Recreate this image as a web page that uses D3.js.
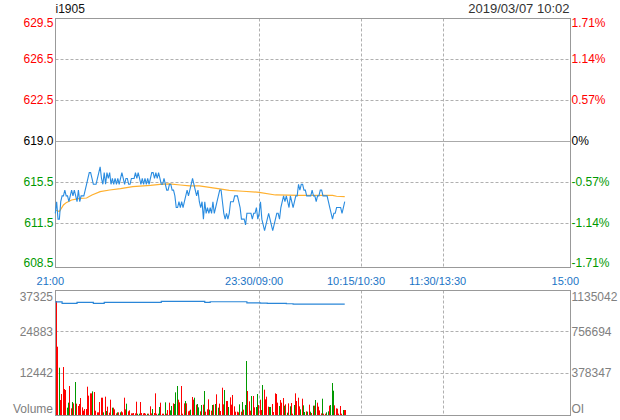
<!DOCTYPE html>
<html><head><meta charset="utf-8">
<script src="https://cdn.jsdelivr.net/npm/d3@7"></script>
<style>
body{margin:0;background:#fff}
svg{display:block}
text{font-family:"Liberation Sans",Arial,sans-serif}
</style>
</head><body>
<svg id="chart" width="620" height="420"></svg>
<script>
// ---------------- data ----------------
const symbol = "i1905";
const stamp = "2019/03/07 10:02";
const preClose = 619.2;
const timeLabels = ["21:00", "23:30/09:00", "10:15/10:30", "11:30/13:30", "15:00"];
const timeSlots = [0, 150, 225, 285, 379];
const pctTicks = [1.71, 1.14, 0.57, 0, -0.57, -1.14, -1.71];
const priceLabels = ["629.5", "626.5", "622.5", "619.0", "615.5", "611.5", "608.5"];
const pctLabels = ["1.71%", "1.14%", "0.57%", "0%", "-0.57%", "-1.14%", "-1.71%"];
const volTicks = [37325, 24883, 12442, 0];
const volLabels = ["37325", "24883", "12442", "Volume"];
const oiMax = 1135042;
const oiLabels = ["1135042", "756694", "378347", "OI"];

// one price per minute, 21:00 .. 10:02
const price = [
613.0,614.0,612.5,612.5,614.0,
614.5,614.5,615.0,614.5,614.5,614.0,614.5,615.0,614.5,615.0,614.5,614.0,615.0,614.0,614.5,614.5,
614.5,
615.0,615.5,616.0,616.5,616.5,616.0,615.5,615.5,615.5,616.0,616.5,617.0,616.0,615.5,616.5,615.5,616.5,616.0,616.5,615.5,
616.0,615.5,616.0,615.5,616.0,615.5,616.0,616.5,616.0,615.5,616.0,616.0,615.5,615.5,616.0,616.0,616.0,616.5,616.0,616.5,
616.0,615.5,616.0,615.5,616.0,615.5,616.0,615.5,616.0,616.5,616.5,
616.0,616.5,616.0,616.5,616.0,615.5,615.5,616.0,615.5,615.0,615.0,615.5,615.5,615.0,
615.0,614.5,613.5,613.5,614.0,613.5,614.0,613.5,614.0,614.5,615.0,614.5,615.0,615.5,616.0,615.5,615.0,614.5,615.0,614.0,
613.5,614.0,612.5,614.0,613.0,613.5,613.0,613.5,613.0,614.0,613.0,613.5,614.0,614.5,615.0,615.0,614.0,613.0,612.5,613.0,
612.5,613.0,614.0,614.0,614.0,614.5,614.5,614.5,614.0,613.5,612.5,612.5,612.5,612.0,
613.0,613.0,613.0,613.0,612.5,613.0,613.0,613.5,612.5,613.0,614.0,612.5,612.0,611.5,612.0,612.5,613.0,612.5,612.0,611.5,
612.0,612.5,613.0,613.0,
612.5,613.5,614.0,614.5,614.0,614.5,614.0,613.5,614.5,614.0,613.5,614.0,614.5,614.5,615.5,615.0,615.5,615.5,615.0,615.0,
614.5,614.5,614.5,614.5,615.0,614.5,614.5,614.0,614.5,614.5,615.0,615.0,614.5,614.5,614.5,614.5,614.0,613.5,613.0,612.5,
613.0,613.0,613.5,613.5,613.5,613.5,613.0,613.5,614.0
];

// average price line (minute slot, value)
const avgSlot  = [0, 3, 6, 8, 12, 18, 23, 27, 33, 40, 48, 57, 70, 77, 84, 92, 99, 106, 121, 128, 138, 150, 162, 180, 204, 207, 213];
const avgPrice = [613.29, 613.15, 613.72, 613.92, 614.15, 614.29, 614.32, 614.58, 614.87, 615.01, 615.13, 615.30, 615.41, 615.50, 615.53, 615.44, 615.36, 615.36, 615.10, 614.98, 614.90, 614.81, 614.58, 614.55, 614.55, 614.47, 614.44];

// volume per minute and side (r = up, g = down)
const volume = [
34000,20260,13940,4210,6020,14140,7520,7220,1910,3410,8430,1710,3610,3210,9630,3110,2410,3010,4810,2010,
1000,1500,1500,8220,5520,6220,6220,6820,6620,1000,500,500,3610,4910,4910,500,5220,900,2210,400,
4310,1910,1910,1400,200,500,500,500,800,500,4910,1400,3110,800,1100,200,200,300,200,3710,
100,100,3610,300,200,300,100,100,100,2310,200,1500,300,6220,100,100,2110,3410,100,100,
3510,100,1200,3410,1100,2410,3210,3010,6520,8430,4310,3510,8430,100,3210,3910,3210,800,1000,1300,
5120,4310,4910,2810,3010,2010,800,
2710,2810,6920,700,1400,4410,1300,1000,2710,2810,3010,5920,1910,3110,900,7920,2910,7220,3910,3910,
2110,5020,2810,5720,2310,700,700,500,2910,700,3610,1300,2710,15950,6920,3810,1000,5420,5420,2010,
2110,6020,2710,4310,1200,8730,7320,4410,5220,2210,2110,2110,3010,600,6220,6020,3410,2410,4210,3410,
4810,2510,2910,400,3210,2310,3310,100,2710,6220,3910,4910,2310,1400,4610,2610,600,800,700,2810,
700,300,2510,2510,4210,3410,2210,1100,200,4610,100,100,500,800,2510,2710,9330,7020,2610,1710,
1600,100,2410,100,1200,1200,1200
];
const volSide = (
"rrgrrrrr" + "ggrrg" + "rgrrrrrrrrrrrrgrrrr" + "rrrgrgrrrgrrrgrgrrrrgrrrrrrr" +
"ggrrrrrgrrrgrrrggrr" + "rgrrrggrg" + "ggrrrrrgrrrgrrgrggr" +
"grgrrrgr" + "grgr" + "grrrr" + "grrgrrr" + "rrrrg" + "rgrggr" + "rr" + "grr" + "ggr" +
"rrgrrr" + "rggrr" + "rrr" + "grrr" + "grgrgr" + "rgrrrrg" + "rg" + "grgr" + "gr" +
"grgrrr" + "rgrrggrgggrrrrrrgrr").split("");

// open interest (slot where it changes, value)
const oiSlot  = [0, 5, 16, 28, 36, 78, 110, 114, 141, 151, 156, 170, 175, 213];
const oiValue = [1027000, 1012600, 1021800, 1012600, 1021800, 1031000, 1021800, 1027300, 1018000, 1015000, 1012600, 1009000, 1006000, 1006000];

// ---------------- drawing ----------------
const svg = d3.select("#chart");
const left = 55.5, right = 570.5;
const pTop = 18.5, pFrameBot = 267.5;
const vTop = 290.5, vFrameBot = 415.5;

const x = d3.scaleLinear().domain([0, 379]).range([55.3, 570.3]);
const yPct = d3.scaleLinear().domain([-1.71, 1.71]).range([264.3, 18.3]);
const yP = p => yPct((p / preClose - 1) * 100);
const yV = d3.scaleLinear().domain([0, 37325]).range([414, 290]);
const yOI = d3.scaleLinear().domain([0, oiMax]).range([414, 290]);

const RED = "#ff0000", GREEN = "#009900", GRID = "#b0b0b0", FRAME = "#999999";
const crisp = v => Math.round(v) + 0.5;

// horizontal grid lines - price
svg.append("g").selectAll("line").data(pctTicks.filter(t => Math.abs(t) < 1.7)).join("line")
  .attr("x1", left).attr("x2", right)
  .attr("y1", d => crisp(yPct(d))).attr("y2", d => crisp(yPct(d)))
  .attr("stroke", d => d === 0 ? "#aaaaaa" : GRID)
  .attr("stroke-dasharray", d => d === 0 ? null : "3,2");

// horizontal grid lines - volume
svg.append("g").selectAll("line").data(volTicks.slice(1, 3)).join("line")
  .attr("x1", left).attr("x2", right)
  .attr("y1", d => crisp(yV(d))).attr("y2", d => crisp(yV(d)))
  .attr("stroke", GRID).attr("stroke-dasharray", "3,2");

// vertical grid lines
const vg = svg.append("g");
timeSlots.slice(1, 4).forEach(s => {
  [[pTop, pFrameBot], [vTop, vFrameBot]].forEach(([a, b]) => {
    vg.append("line").attr("x1", crisp(x(s))).attr("x2", crisp(x(s)))
      .attr("y1", a).attr("y2", b)
      .attr("stroke", GRID).attr("stroke-dasharray", "3,2");
  });
});

// frames
svg.append("rect").attr("x", left).attr("y", pTop).attr("width", right - left).attr("height", pFrameBot - pTop)
  .attr("fill", "none").attr("stroke", FRAME);
svg.append("rect").attr("x", left).attr("y", vTop).attr("width", right - left).attr("height", vFrameBot - vTop)
  .attr("fill", "none").attr("stroke", FRAME);

// volume bars (drawn one pixel right of the slot so the first bar clears the frame)
svg.append("g").selectAll("rect").data(volume).join("rect")
  .attr("x", (d, i) => Math.floor(x(i)) + 1)
  .attr("width", 1)
  .attr("y", d => yV(d))
  .attr("height", d => vFrameBot - 0.5 - yV(d))
  .attr("fill", (d, i) => volSide[i] === "r" ? RED : GREEN);

// open interest line
const oiData = oiSlot.map((s, i) => [s, oiValue[i]]);
svg.append("path").datum(oiData)
  .attr("d", d3.line().x(d => x(d[0])).y(d => yOI(d[1])).curve(d3.curveStepAfter))
  .attr("fill", "none").attr("stroke", "#2a86d8").attr("stroke-width", 1.2);

// average line
const avgData = avgSlot.map((s, i) => [s, avgPrice[i]]);
svg.append("path").datum(avgData)
  .attr("d", d3.line().x(d => x(d[0])).y(d => yP(d[1])))
  .attr("fill", "none").attr("stroke", "#ffb02e").attr("stroke-width", 1.2);

// price line
svg.append("path").datum(price)
  .attr("d", d3.line().x((d, i) => x(i)).y(d => yP(d)))
  .attr("fill", "none").attr("stroke", "#2a8ce0").attr("stroke-width", 1.1);

// labels
const colorFor = t => t > 0 ? RED : (t < 0 ? GREEN : "#000");
const lblY = y => Math.min(Math.max(y, pTop + 4.5), 263.5) - 0.5;
svg.append("g").selectAll("text").data(pctTicks).join("text")
  .attr("x", 53.5).attr("y", d => lblY(yPct(d)))
  .attr("text-anchor", "end").attr("dominant-baseline", "central")
  .attr("font-size", 12).attr("fill", colorFor)
  .text((d, i) => priceLabels[i]);
svg.append("g").selectAll("text").data(pctTicks).join("text")
  .attr("x", 571.5).attr("y", d => lblY(yPct(d)))
  .attr("text-anchor", "start").attr("dominant-baseline", "central")
  .attr("font-size", 12).attr("fill", colorFor)
  .text((d, i) => pctLabels[i]);

const vLblY = y => Math.min(Math.max(y, vTop + 5.5), 408.5) + 0.5;
svg.append("g").selectAll("text").data(volTicks).join("text")
  .attr("x", 53).attr("y", d => vLblY(yV(d)))
  .attr("text-anchor", "end").attr("dominant-baseline", "central")
  .attr("font-size", 12).attr("fill", "#808080")
  .text((d, i) => volLabels[i]);
svg.append("g").selectAll("text").data(volTicks).join("text")
  .attr("x", 571.5).attr("y", d => vLblY(yV(d)))
  .attr("text-anchor", "start").attr("dominant-baseline", "central")
  .attr("font-size", 12).attr("fill", "#808080")
  .text((d, i) => oiLabels[i]);

svg.append("g").selectAll("text").data(timeSlots).join("text")
  .attr("x", d => x(d) - 5).attr("y", 280.5)
  .attr("text-anchor", "middle").attr("dominant-baseline", "central")
  .attr("font-size", 11).attr("fill", "#1a74c6")
  .text((d, i) => timeLabels[i]);

svg.append("text").attr("x", 55.5).attr("y", 8.5)
  .attr("dominant-baseline", "central").attr("font-size", 12).attr("fill", "#111")
  .text(symbol);
svg.append("text").attr("x", 569.5).attr("y", 8.5)
  .attr("text-anchor", "end").attr("dominant-baseline", "central")
  .attr("font-size", 13).attr("fill", "#333")
  .text(stamp);
</script>
</body></html>
